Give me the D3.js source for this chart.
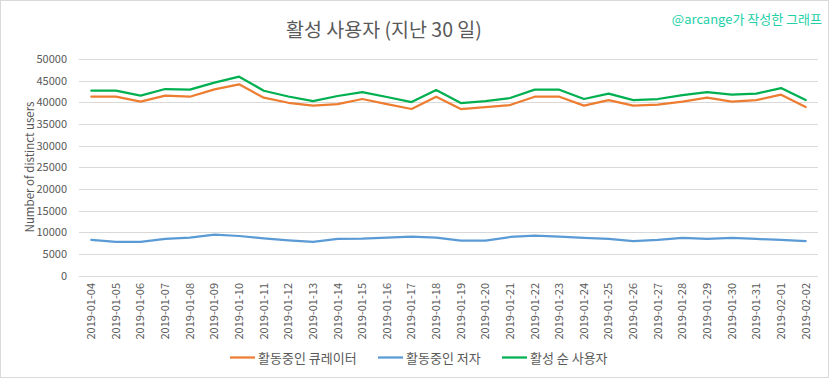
<!DOCTYPE html>
<html><head><meta charset="utf-8">
<script src="https://cdn.jsdelivr.net/npm/d3@7"></script>
<style>body{margin:0;background:#fff}svg{display:block}</style>
</head><body><svg id="c" width="833" height="379"></svg>
<script>
const dates = ["2019-01-04","2019-01-05","2019-01-06","2019-01-07","2019-01-08","2019-01-09","2019-01-10","2019-01-11","2019-01-12","2019-01-13","2019-01-14","2019-01-15","2019-01-16","2019-01-17","2019-01-18","2019-01-19","2019-01-20","2019-01-21","2019-01-22","2019-01-23","2019-01-24","2019-01-25","2019-01-26","2019-01-27","2019-01-28","2019-01-29","2019-01-30","2019-01-31","2019-02-01","2019-02-02"];
const curators = [41300,41300,40150,41530,41300,43000,44150,41070,39900,39230,39610,40770,39610,38460,41300,38460,38920,39380,41300,41300,39230,40530,39230,39460,40150,41070,40150,40530,41770,38920];
const authors = [8240,7780,7780,8470,8770,9470,9160,8620,8160,7780,8470,8550,8770,9000,8770,8080,8080,8930,9230,9000,8700,8470,8000,8240,8700,8470,8700,8470,8240,8000];
const activeUsers = [42680,42680,41530,43070,42920,44530,45920,42680,41350,40300,41460,42380,41230,40070,42840,39840,40300,41000,42920,42920,40770,42000,40530,40770,41690,42380,41770,42000,43300,40530];
const yTicks = [0,5000,10000,15000,20000,25000,30000,35000,40000,45000,50000];
const seriesNames = ["활동중인 큐레이터","활동중인 저자","활성 순 사용자"];
const seriesColors = ["#ED7D31","#5B9BD5","#00B050"];
const series = [curators, authors, activeUsers];

const svg = d3.select("#c");
const font = "'Noto Sans CJK KR','Noto Sans',sans-serif";
svg.append("rect").attr("x",0.5).attr("y",0.5).attr("width",828).attr("height",377)
  .attr("fill","#fff").attr("stroke","#d9d9d9");

const x = d3.scaleBand().domain(dates).range([79,818]);
const y = d3.scaleLinear().domain([0,50000]).range([275.7,59]);

// grid
svg.append("g").selectAll("line").data(yTicks).join("line")
  .attr("x1",79).attr("x2",818).attr("y1",d=>Math.round(y(d))+0.5).attr("y2",d=>Math.round(y(d))+0.5)
  .attr("stroke","#d9d9d9").attr("stroke-width",1);

// y axis
const ya = svg.append("g").attr("transform","translate(79,0)")
  .call(d3.axisLeft(y).tickValues(yTicks).tickSize(0).tickPadding(12).tickFormat(d3.format("d")));
ya.select(".domain").remove();
ya.selectAll("text").attr("fill","#595959").style("font-family",font).style("font-size","11px");

// x axis
const xa = svg.append("g").attr("transform","translate(0,276)")
  .call(d3.axisBottom(x).tickSize(0).tickPadding(0));
xa.select(".domain").remove();
xa.selectAll("text").attr("fill","#595959").style("font-family",font).style("font-size","11px")
  .attr("text-anchor","end").attr("dy","0.35em")
  .attr("transform","translate(0,7) rotate(-90)").attr("y",0).attr("x",0);

// lines
const line = d3.line().x((d,i)=>x(dates[i])+x.bandwidth()/2).y(d=>y(d));
series.forEach((s,k)=>{
  svg.append("path").datum(s).attr("d",line).attr("fill","none")
    .attr("stroke",seriesColors[k]).attr("stroke-width",2.25).attr("stroke-linejoin","round").attr("stroke-linecap","round");
});

// titles
svg.append("text").attr("x",384).attr("y",37).attr("text-anchor","middle")
  .attr("fill","#595959").style("font-family",font).style("font-size","19.5px").text("활성 사용자 (지난 30 일)");
svg.append("text").attr("x",822).attr("y",24).attr("text-anchor","end")
  .attr("fill","#22d0a8").style("font-family",font).style("font-size","13px").text("@arcange가 작성한 그래프");
svg.append("text").attr("transform","translate(34,167) rotate(-90)").attr("text-anchor","middle")
  .attr("fill","#595959").style("font-family",font).style("font-size","11.5px").text("Number of distinct users");

// legend
const legX = [230,378,502];
const lg = svg.append("g");
seriesNames.forEach((n,k)=>{
  lg.append("line").attr("x1",legX[k]).attr("x2",legX[k]+25).attr("y1",357.5).attr("y2",357.5)
    .attr("stroke",seriesColors[k]).attr("stroke-width",2.25);
  lg.append("text").attr("x",legX[k]+28).attr("y",358).attr("dy","0.35em")
    .attr("fill","#595959").style("font-family",font).style("font-size","13px").text(n);
});
</script></body></html>
